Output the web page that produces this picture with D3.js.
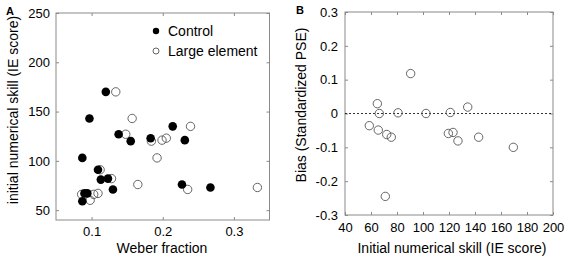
<!DOCTYPE html>
<html>
<head>
<meta charset="utf-8">
<script src="https://cdn.jsdelivr.net/npm/d3@7"></script>
<style>
  body { margin: 0; background: #fff; }
  svg { display: block; font-family: "Liberation Sans", Arial, sans-serif; }
</style>
</head>
<body>
<svg id="chart" width="570" height="264"></svg>
<script>
// panel A: Weber fraction vs initial numerical skill
const controlX = [0.120, 0.097, 0.138, 0.155, 0.183, 0.214, 0.231, 0.087, 0.109, 0.113, 0.123, 0.130, 0.094, 0.090, 0.087, 0.227, 0.267];
const controlY = [170, 143, 127, 120, 123, 135, 121, 103, 91, 81, 82, 71, 67, 67, 59, 76, 73];
const largeX = [0.134, 0.157, 0.148, 0.184, 0.199, 0.205, 0.239, 0.192, 0.112, 0.128, 0.165, 0.235, 0.333, 0.086, 0.103, 0.109, 0.098];
const largeY = [170, 143, 127, 120, 121, 123, 135, 103, 91, 82, 76, 71, 73, 66, 66, 67, 60];
const ticksAX = [0.1, 0.2, 0.3];
const ticksAY = [50, 100, 150, 200, 250];

// panel B: initial skill vs bias
const biasX = [90.5, 64.9, 66.4, 80.8, 102.3, 121, 134.4, 58.7, 65.6, 72.1, 75.6, 119.5, 123.1, 126.9, 142.8, 169.5, 71];
const biasY = [0.118, 0.029, 0, 0.002, 0, 0.003, 0.019, -0.036, -0.049, -0.062, -0.070, -0.059, -0.056, -0.081, -0.070, -0.100, -0.245];
const ticksBX = [40, 60, 80, 100, 120, 140, 160, 180, 200];
const ticksBY = [-0.3, -0.2, -0.1, 0, 0.1, 0.2, 0.3];

const svg = d3.select("#chart");
const frameColor = "#8a8a8a";

// vẽ khung + trục với tick hướng vào trong
function drawFrame(x, y, tx, ty, fmtX, fmtY, padX, padY) {
  const [x0, x1] = x.range();
  const [y0, y1] = y.range();
  const g = svg.append("g");

  const bottom = g.append("g").attr("transform", `translate(0,${y0})`)
    .call(d3.axisBottom(x).tickValues(tx).tickSize(-3).tickPadding(padX).tickFormat(fmtX));
  const top = g.append("g").attr("transform", `translate(0,${y1})`)
    .call(d3.axisTop(x).tickValues(tx).tickSize(-3).tickFormat(""));
  const left = g.append("g").attr("transform", `translate(${x0},0)`)
    .call(d3.axisLeft(y).tickValues(ty).tickSize(-3).tickPadding(padY).tickFormat(fmtY));
  const right = g.append("g").attr("transform", `translate(${x1},0)`)
    .call(d3.axisRight(y).tickValues(ty).tickSize(-3).tickFormat(""));

  [bottom, top, left, right].forEach(a => {
    a.select(".domain").remove();
    a.selectAll(".tick line").attr("stroke", frameColor);
    a.selectAll("text").attr("fill", "#000").style("font-size", "13px").style("font-family", "inherit");
  });

  g.append("rect")
    .attr("x", x0).attr("y", y1)
    .attr("width", x1 - x0).attr("height", y0 - y1)
    .attr("fill", "none").attr("stroke", frameColor).attr("stroke-width", 1);
}

// ===== panel A =====
const xA = d3.scaleLinear().domain([0.05, 0.35]).range([56, 269.5]);
const yA = d3.scaleLinear().domain([40, 250]).range([220, 13]);
drawFrame(xA, yA, ticksAX, ticksAY, d3.format(".1f"), d3.format("d"), 7, 6);

const largePts = largeX.map((v, i) => [v, largeY[i]]);
const controlPts = controlX.map((v, i) => [v, controlY[i]]);

svg.append("g").selectAll("circle").data(largePts).join("circle")
  .attr("cx", d => xA(d[0])).attr("cy", d => yA(d[1])).attr("r", 4.2)
  .attr("fill", "none").attr("stroke", "#555").attr("stroke-width", 0.9);
svg.append("g").selectAll("circle").data(controlPts).join("circle")
  .attr("cx", d => xA(d[0])).attr("cy", d => yA(d[1])).attr("r", 4.3)
  .attr("fill", "#000");

// chú thích
const legend = svg.append("g").attr("transform", "translate(156,31)");
legend.append("circle").attr("r", 3.2).attr("fill", "#000");
legend.append("text").attr("x", 12).attr("y", 5).style("font-size", "14px").text("Control");
legend.append("circle").attr("cy", 20).attr("r", 3).attr("fill", "none").attr("stroke", "#555").attr("stroke-width", 0.9);
legend.append("text").attr("x", 12).attr("y", 25).style("font-size", "14px").text("Large element");

svg.append("text").attr("x", 162).attr("y", 253).attr("text-anchor", "middle")
  .style("font-size", "14px").text("Weber fraction");
svg.append("text").attr("transform", "translate(18,110) rotate(-90)").attr("text-anchor", "middle")
  .style("font-size", "14px").text("initial numerical skill (IE score)");
svg.append("text").attr("x", 6).attr("y", 15).style("font-size", "11px").style("font-weight", "bold").text("A");

// ===== panel B =====
const xB = d3.scaleLinear().domain([40, 200]).range([345, 553]);
const yB = d3.scaleLinear().domain([-0.3, 0.3]).range([215, 12]);
drawFrame(xB, yB, ticksBX, ticksBY, d3.format("d"), d => d === 0 ? "0" : d.toFixed(1), 8, 7);

svg.append("line")
  .attr("x1", xB(40)).attr("x2", xB(200)).attr("y1", yB(0)).attr("y2", yB(0))
  .attr("stroke", "#000").attr("stroke-width", 0.8).attr("stroke-dasharray", "2,2");

svg.append("g").selectAll("circle").data(biasX.map((v, i) => [v, biasY[i]])).join("circle")
  .attr("cx", d => xB(d[0])).attr("cy", d => yB(d[1])).attr("r", 4.2)
  .attr("fill", "none").attr("stroke", "#555").attr("stroke-width", 0.9);

svg.append("text").attr("x", 452).attr("y", 253).attr("text-anchor", "middle")
  .style("font-size", "14px").text("Initial numerical skill (IE score)");
svg.append("text").attr("transform", "translate(306,105) rotate(-90)").attr("text-anchor", "middle")
  .style("font-size", "14px").text("Bias (Standardized PSE)");
svg.append("text").attr("x", 296).attr("y", 14).style("font-size", "11px").style("font-weight", "bold").text("B");
</script>
</body>
</html>
